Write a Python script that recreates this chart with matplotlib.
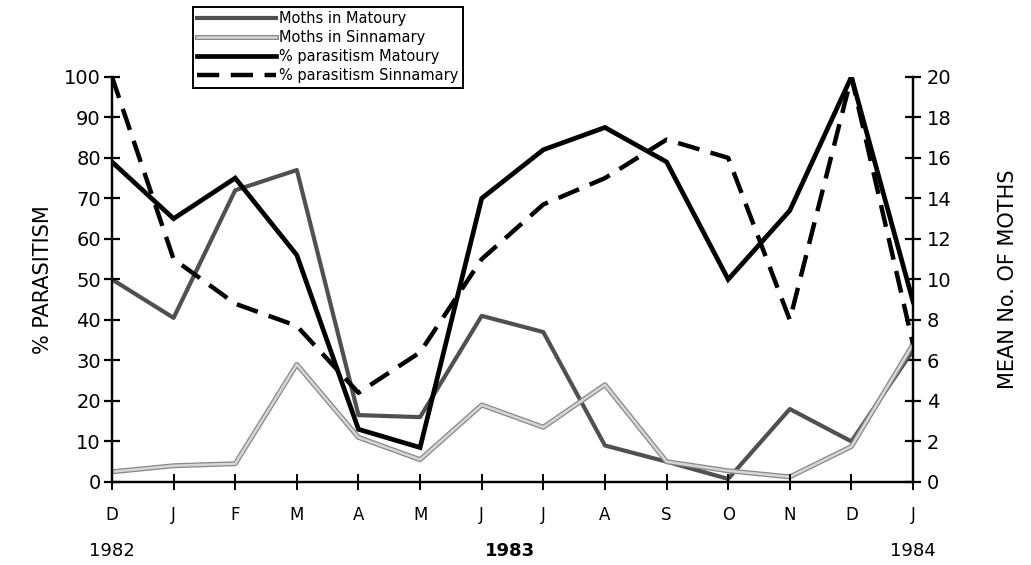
import matplotlib
matplotlib.use("Agg")
import matplotlib.pyplot as plt
import matplotlib.patheffects as pe
import numpy as np

# ---------------------------------------------------------------------------
# Data (Dec 1982 - Jan 1984)
# ---------------------------------------------------------------------------
months = ["D", "J", "F", "M", "A", "M", "J", "J", "A", "S", "O", "N", "D", "J"]

# mean number of moths (right axis)
moths_matoury    = [10.0, 8.1, 14.4, 15.4, 3.3, 3.2, 8.2, 7.4, 1.8, 1.0, 0.15, 3.6, 2.0, 6.5]
moths_sinnamary  = [0.5, 0.8, 0.9, 5.8, 2.2, 1.1, 3.8, 2.7, 4.8, 1.0, 0.55, 0.25, 1.75, 6.8]

# % parasitism (left axis)
para_matoury     = [79, 65, 75, 56, 13, 8.5, 70, 82, 87.5, 79, 50, 67, 100, 44.5]
para_sinnamary   = [100, 55, 44, 38.5, 22, 32, 55, 68.5, 75, 84.5, 80, 40, 100, 34]

left_ticks  = list(range(0, 101, 10))
right_ticks = list(range(0, 21, 2))

x = np.arange(len(months))

fig = plt.figure(figsize=(10.31, 5.65), dpi=100)
ax = fig.add_axes([0.1086, 0.147, 0.777, 0.717])
ax2 = ax.twinx()

# moth counts on the right axis
l1, = ax2.plot(x, moths_matoury, color="#505050", lw=3.0,
               label="Moths in Matoury", zorder=2)
l2, = ax2.plot(x, moths_sinnamary, color="#d6d6d6", lw=1.8,
               label="Moths in Sinnamary", zorder=2,
               path_effects=[pe.Stroke(linewidth=3.6, foreground="#888888"),
                             pe.Normal()])

# parasitism on the left axis (drawn on top)
ax.set_zorder(ax2.get_zorder() + 1)
ax.patch.set_visible(False)
l3, = ax.plot(x, para_matoury, color="black", lw=3.4,
              label="% parasitism Matoury", solid_joinstyle="miter")
l4, = ax.plot(x, para_sinnamary, color="black", lw=3.2,
              label="% parasitism Sinnamary", dashes=(5, 2.6))

ax.set_xlim(0, 13)
ax.set_ylim(0, 100)
ax2.set_ylim(0, 20)
ax.set_yticks(left_ticks)
ax2.set_yticks(right_ticks)
ax.set_xticks(x)
ax.set_xticklabels(months, fontsize=12)

for a in (ax, ax2):
    a.spines["top"].set_visible(False)
    for s in a.spines.values():
        s.set_linewidth(1.6)
ax.tick_params(axis="y", direction="inout", length=12, width=1.6,
               labelsize=14, pad=2)
ax2.tick_params(axis="y", direction="inout", length=12, width=1.6,
                labelsize=14, pad=4)
ax.tick_params(axis="x", direction="inout", length=12, width=1.4, pad=11)

ax.set_ylabel("% PARASITISM", fontsize=15, labelpad=8)
ax2.set_ylabel("MEAN No. OF MOTHS", fontsize=15, labelpad=33)

# year labels under the months
fig.text(0.1086, 0.016, "1982", ha="center", fontsize=13)
fig.text(0.495, 0.016, "1983", ha="center", fontsize=13, fontweight="bold")
fig.text(0.8856, 0.016, "1984", ha="center", fontsize=13)

leg = fig.legend(handles=[l1, l2, l3, l4], loc="upper left",
                 bbox_to_anchor=(0.187, 0.988), fontsize=10.5,
                 frameon=True, fancybox=False, framealpha=1,
                 edgecolor="black", handlelength=5.4, handletextpad=0.2,
                 borderpad=0.3, labelspacing=0.28, borderaxespad=0)
leg.get_frame().set_linewidth(1.4)

fig.savefig("out.png", dpi=100)
